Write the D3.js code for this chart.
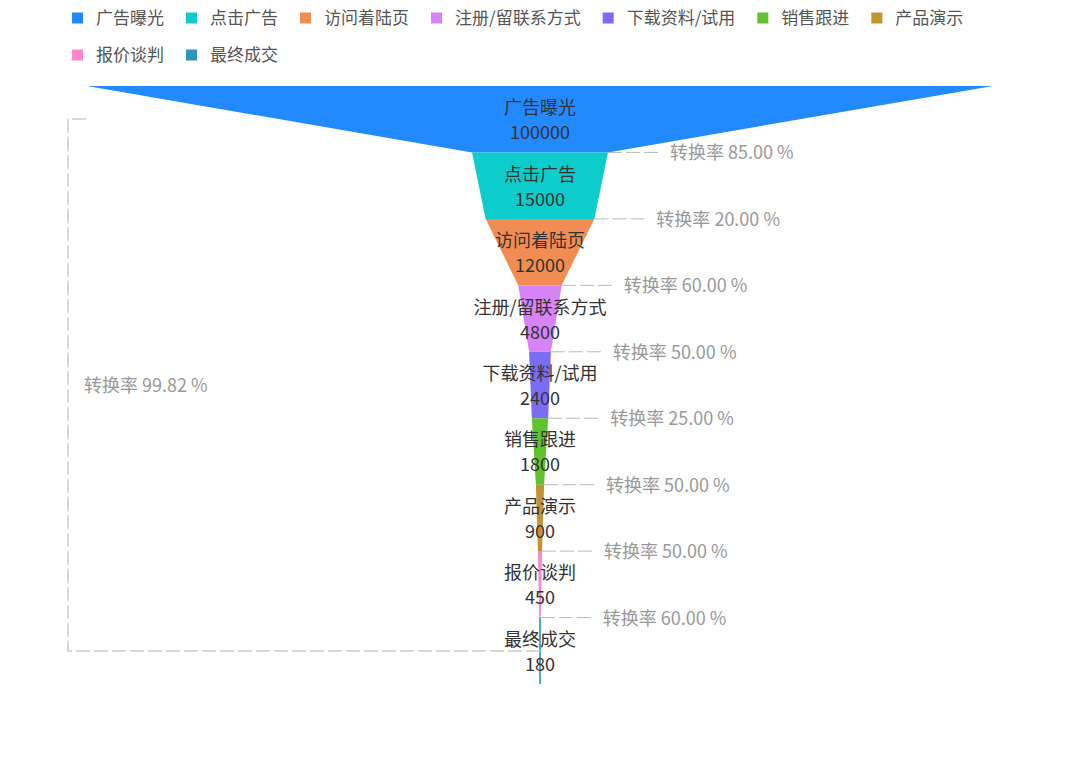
<!DOCTYPE html><html><head><meta charset="utf-8"><script src="https://cdn.jsdelivr.net/npm/d3@7"></script>
<style>body{margin:0;background:#fff}text{font-family:"Noto Sans CJK SC","DejaVu Sans",sans-serif}</style></head><body>
<svg id="c" width="1080" height="771"></svg>
<script>
const stages=["广告曝光","点击广告","访问着陆页","注册/留联系方式","下载资料/试用","销售跟进","产品演示","报价谈判","最终成交"];
const values=[100000,15000,12000,4800,2400,1800,900,450,180];
const rates=["85.00 %","20.00 %","60.00 %","50.00 %","25.00 %","50.00 %","50.00 %","60.00 %"];
const totalRate="99.82 %";
const colors=["#2389FF","#0DCCCC","#F18D52","#D683F7","#7B6CF6","#5FC22E","#C4922F","#FF85CC","#2B95BA"];
const svg=d3.select("#c");
const cx=540;
const w=d3.scaleLinear().domain([0,100000]).range([0,906]);
const y=d3.scaleBand().domain(stages).range([86,684]).padding(0);
const h=y.bandwidth();
// legend
let lx=72,ly=18;
stages.forEach((s,i)=>{
  const g=svg.append("g");
  const t=g.append("text").attr("x",lx+24).attr("y",ly+6).attr("font-size",17).attr("fill","#555").text(s);
  const tw=t.node().getComputedTextLength();
  if(lx+24+tw>1020){lx=72;ly+=37;t.attr("x",lx+24).attr("y",ly+6);}
  g.append("rect").attr("x",lx).attr("y",ly-5.5).attr("width",11).attr("height",11).attr("fill",colors[i]);
  lx+=24+tw+22;
});
stages.forEach((s,i)=>{
  const t=w(values[i])/2, b=w(i<values.length-1?values[i+1]:values[i])/2;
  const y0=y(s),y1=y0+h;
  svg.append("path").attr("d",`M${cx-t},${y0}L${cx+t},${y0}L${cx+b},${y1}L${cx-b},${y1}Z`).attr("fill",colors[i]);
});
stages.forEach((s,i)=>{
  const m=y(s)+h/2;
  svg.append("text").attr("x",cx).attr("y",m-5).attr("text-anchor","middle").attr("font-size",18).attr("fill","#333").text(s);
  svg.append("text").attr("x",cx).attr("y",m+20).attr("text-anchor","middle").attr("font-size",18).attr("fill","#333").text(values[i]);
});
rates.forEach((r,i)=>{
  const yy=y(stages[i+1]); const x0=cx+w(values[i+1])/2;
  svg.append("line").attr("x1",x0).attr("x2",x0+54).attr("y1",yy).attr("y2",yy).attr("stroke","#bbb").attr("stroke-dasharray","14,4");
  svg.append("text").attr("x",x0+62).attr("y",yy+7).attr("font-size",18).attr("fill","#999").text("转换率 "+r);
});
svg.append("path").attr("d","M86,119H68V651H540").attr("fill","none").attr("stroke","#ccc").attr("stroke-width",1.5).attr("stroke-dasharray","14,4");
svg.append("text").attr("x",84).attr("y",392).attr("font-size",18).attr("fill","#999").text("转换率 "+totalRate);
</script></body></html>
